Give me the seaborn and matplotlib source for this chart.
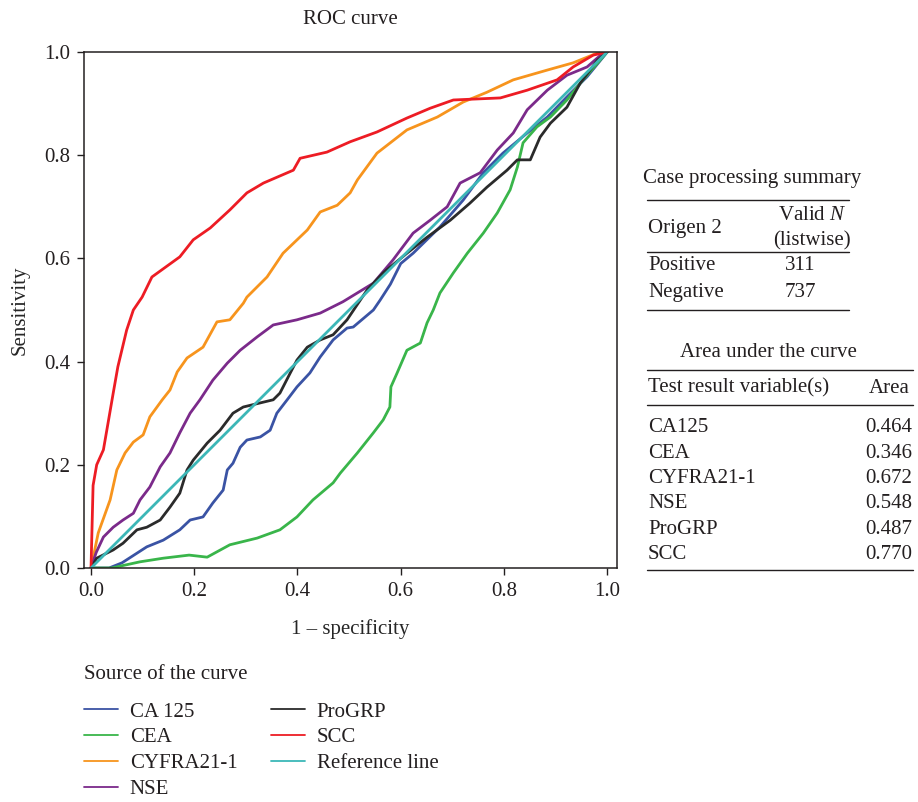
import seaborn as sns
import matplotlib.pyplot as plt
import pandas as pd
from matplotlib.lines import Line2D

# ROC curve points (1 - specificity, sensitivity)
ca125_x = [0.0, 0.035, 0.06, 0.108, 0.14, 0.172, 0.192, 0.217, 0.236, 0.256, 0.264, 0.275, 0.289, 0.302,
           0.328, 0.347, 0.36, 0.38, 0.399, 0.424, 0.444, 0.469, 0.496, 0.508, 0.547, 0.56, 0.58, 0.6,
           0.624, 0.676, 0.721, 0.76, 0.798, 0.845, 0.884, 0.922, 0.961, 0.992, 1.0]
ca125_y = [0.0, 0.0, 0.01, 0.041, 0.054, 0.074, 0.093, 0.099, 0.126, 0.151, 0.19, 0.203, 0.234, 0.248,
           0.254, 0.267, 0.3, 0.326, 0.351, 0.378, 0.409, 0.442, 0.465, 0.467, 0.5, 0.519, 0.55, 0.59,
           0.61, 0.661, 0.713, 0.766, 0.804, 0.843, 0.874, 0.913, 0.952, 0.99, 1.0]

cea_x = [0.0, 0.04, 0.095, 0.14, 0.19, 0.225, 0.269, 0.322, 0.366, 0.399, 0.43, 0.469, 0.483, 0.516,
         0.547, 0.566, 0.579, 0.581, 0.593, 0.612, 0.638, 0.651, 0.663, 0.676, 0.702, 0.729, 0.76,
         0.787, 0.812, 0.826, 0.837, 0.864, 0.89, 0.922, 0.953, 0.986, 1.0]
cea_y = [0.0, 0.0, 0.012, 0.019, 0.025, 0.021, 0.045, 0.058, 0.074, 0.099, 0.132, 0.165, 0.184, 0.223,
         0.262, 0.287, 0.312, 0.351, 0.378, 0.422, 0.436, 0.475, 0.5, 0.533, 0.572, 0.61, 0.649,
         0.688, 0.733, 0.777, 0.824, 0.855, 0.874, 0.907, 0.946, 0.984, 1.0]

cyfra_x = [0.0, 0.014, 0.037, 0.05, 0.066, 0.082, 0.101, 0.114, 0.138, 0.153, 0.167, 0.186, 0.217,
           0.244, 0.269, 0.295, 0.302, 0.341, 0.372, 0.419, 0.444, 0.477, 0.502, 0.516, 0.554, 0.612,
           0.671, 0.721, 0.767, 0.818, 0.884, 0.934, 0.981, 1.0]
cyfra_y = [0.0, 0.068, 0.132, 0.19, 0.223, 0.244, 0.258, 0.293, 0.326, 0.345, 0.38, 0.407, 0.428,
           0.477, 0.481, 0.513, 0.525, 0.564, 0.61, 0.655, 0.69, 0.703, 0.727, 0.752, 0.804, 0.849,
           0.874, 0.903, 0.922, 0.946, 0.965, 0.979, 0.998, 1.0]

nse_x = [0.0, 0.01, 0.024, 0.043, 0.062, 0.082, 0.095, 0.114, 0.134, 0.153, 0.172, 0.192, 0.211, 0.236,
         0.264, 0.289, 0.322, 0.353, 0.399, 0.444, 0.488, 0.547, 0.585, 0.624, 0.657, 0.69, 0.715,
         0.754, 0.787, 0.818, 0.845, 0.884, 0.922, 0.961, 0.992, 1.0]
nse_y = [0.0, 0.03, 0.06, 0.079, 0.093, 0.106, 0.132, 0.157, 0.196, 0.223, 0.262, 0.3, 0.326, 0.364,
         0.397, 0.422, 0.448, 0.471, 0.481, 0.494, 0.516, 0.552, 0.597, 0.649, 0.674, 0.7, 0.746,
         0.766, 0.81, 0.843, 0.888, 0.926, 0.955, 0.971, 0.998, 1.0]

progrp_x = [0.0, 0.011, 0.043, 0.062, 0.089, 0.108, 0.134, 0.153, 0.172, 0.186, 0.198, 0.225, 0.25,
            0.275, 0.295, 0.328, 0.353, 0.366, 0.386, 0.399, 0.419, 0.444, 0.469, 0.496, 0.535, 0.566,
            0.612, 0.651, 0.696, 0.734, 0.767, 0.806, 0.826, 0.851, 0.87, 0.89, 0.922, 0.948, 0.981, 1.0]
progrp_y = [0.0, 0.019, 0.035, 0.048, 0.074, 0.079, 0.093, 0.118, 0.145, 0.19, 0.209, 0.242, 0.267,
            0.3, 0.312, 0.32, 0.326, 0.339, 0.378, 0.403, 0.428, 0.442, 0.452, 0.481, 0.539, 0.572,
            0.61, 0.641, 0.674, 0.707, 0.738, 0.771, 0.791, 0.791, 0.835, 0.862, 0.893, 0.94, 0.984, 1.0]

scc_x = [0.0, 0.002, 0.004, 0.011, 0.024, 0.033, 0.043, 0.052, 0.069, 0.082, 0.099, 0.118, 0.172,
         0.198, 0.231, 0.269, 0.302, 0.334, 0.392, 0.405, 0.457, 0.502, 0.554, 0.612, 0.657, 0.702,
         0.793, 0.845, 0.903, 0.934, 0.973, 1.0]
scc_y = [0.0, 0.08, 0.16, 0.2, 0.229, 0.281, 0.339, 0.39, 0.461, 0.5, 0.525, 0.564, 0.603,
         0.636, 0.659, 0.694, 0.727, 0.746, 0.771, 0.794, 0.806, 0.826, 0.845, 0.872, 0.891, 0.907,
         0.911, 0.926, 0.946, 0.971, 0.994, 1.0]

ref_x = [0.0, 1.0]
ref_y = [0.0, 1.0]

curve_names = ["CA 125", "CEA", "CYFRA21-1", "NSE", "ProGRP", "SCC", "Reference line"]
curve_xs = [ca125_x, cea_x, cyfra_x, nse_x, progrp_x, scc_x, ref_x]
curve_ys = [ca125_y, cea_y, cyfra_y, nse_y, progrp_y, scc_y, ref_y]
curve_colors = ["#3a53a4", "#39b54a", "#f7941d", "#7b2a8a", "#2b2b2b", "#ed1c24", "#3cb7b7"]

# tables
case_labels = ["Positive", "Negative"]
case_counts = ["311", "737"]
auc_labels = ["CA125", "CEA", "CYFRA21-1", "NSE", "ProGRP", "SCC"]
auc_values = ["0.464", "0.346", "0.672", "0.548", "0.487", "0.770"]

rows = []
for name, xs, ys in zip(curve_names, curve_xs, curve_ys):
    for i, (x, y) in enumerate(zip(xs, ys)):
        rows.append({"curve": name, "order": i, "fpr": x, "tpr": y})
df = pd.DataFrame(rows)

sns.set_theme(style="ticks")
plt.rcParams['font.family'] = ['Liberation Serif', 'DejaVu Serif']
plt.rcParams['text.color'] = '#231f20'
plt.rcParams['mathtext.fontset'] = 'custom'
plt.rcParams['mathtext.rm'] = 'Liberation Serif'
plt.rcParams['mathtext.it'] = 'Liberation Serif:italic'

fs = 15
W, H = 918, 802
fig = plt.figure(figsize=(W / 100, H / 100), dpi=100)
ax = fig.add_axes([84 / W, 1 - 568 / H, 533 / W, 516 / H])

sns.lineplot(data=df, x="fpr", y="tpr", hue="curve", hue_order=curve_names,
             palette=curve_colors, units="curve", estimator=None, sort=False,
             linewidth=2.0, ax=ax, legend=False)

ax.set_xlim(-0.0136, 1.019)
ax.set_ylim(0, 1)
ax.set_xticks([0, 0.2, 0.4, 0.6, 0.8, 1.0])
ax.set_yticks([0, 0.2, 0.4, 0.6, 0.8, 1.0])
ax.set_xticklabels(["0.0", "0.2", "0.4", "0.6", "0.8", "1.0"])
ax.set_yticklabels(["0.0", "0.2", "0.4", "0.6", "0.8", "1.0"])
ax.tick_params(labelsize=fs, length=5, width=1, colors='#231f20', pad=5)
for s in ax.spines.values():
    s.set_color('#231f20')
    s.set_linewidth(1.1)
ax.set_xlabel("1 \u2013 specificity", fontsize=fs, labelpad=13)
ax.set_ylabel("Sensitivity", fontsize=fs, labelpad=10)
ax.set_title("ROC curve", fontsize=fs, pad=20)

# legend
handles = [Line2D([0], [0], color=c, lw=1.3) for c in curve_colors]
leg = fig.legend(handles, curve_names, loc="upper left", bbox_to_anchor=(84 / W, 1 - 665 / H),
                 ncol=2, frameon=False, fontsize=fs, title="Source of the curve",
                 title_fontsize=fs, alignment="left", handlelength=1.65, handletextpad=0.55,
                 columnspacing=1.6, labelspacing=0.3, borderpad=0, borderaxespad=0)
leg._legend_box.sep = 13


def fx(px):
    return px / W


def fy(py):
    return 1 - py / H


def hline(x0, x1, py, lw=1.0):
    fig.add_artist(Line2D([fx(x0), fx(x1)], [fy(py), fy(py)], color='#231f20', lw=lw))


# case processing summary
fig.text(fx(752), fy(178), "Case processing summary", ha="center", va="center", fontsize=fs)
hline(647, 849, 200)
fig.text(fx(648), fy(229), "Origen 2", ha="left", va="center", fontsize=fs)
fig.text(fx(812), fy(215), "Valid $N$", ha="center", va="center", fontsize=fs)
fig.text(fx(812), fy(241), "(listwise)", ha="center", va="center", fontsize=fs)
hline(647, 849, 252)
for i, (lab, cnt) in enumerate(zip(case_labels, case_counts)):
    y = 266 + i * 27
    fig.text(fx(648), fy(y), lab, ha="left", va="center", fontsize=fs)
    fig.text(fx(800), fy(y), cnt, ha="center", va="center", fontsize=fs)
hline(647, 849, 310)

# area under the curve
fig.text(fx(768), fy(353), "Area under the curve", ha="center", va="center", fontsize=fs)
hline(647, 913, 370)
fig.text(fx(648), fy(388), "Test result variable(s)", ha="left", va="center", fontsize=fs)
fig.text(fx(910), fy(388), "Area", ha="right", va="center", fontsize=fs)
hline(647, 913, 405)
for i, (lab, val) in enumerate(zip(auc_labels, auc_values)):
    y = 428 + i * 25.3
    fig.text(fx(648), fy(y), lab, ha="left", va="center", fontsize=fs)
    fig.text(fx(912), fy(y), val, ha="right", va="center", fontsize=fs)
hline(647, 913, 570)

fig.savefig("out.png", dpi=100)
